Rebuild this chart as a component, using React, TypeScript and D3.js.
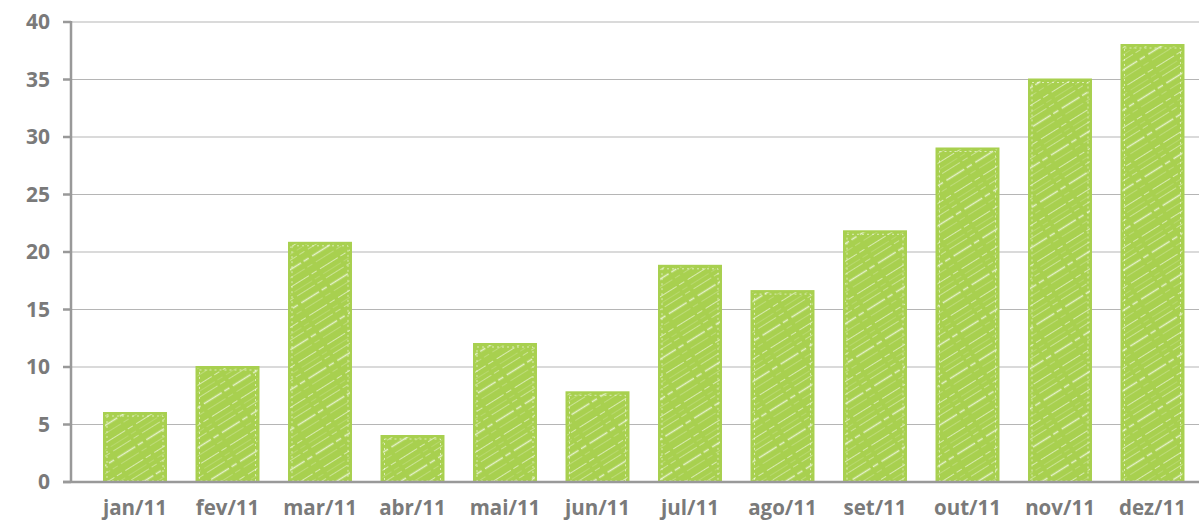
import React from 'react';
import * as d3 from 'd3';

const months = ['jan/11', 'fev/11', 'mar/11', 'abr/11', 'mai/11', 'jun/11', 'jul/11', 'ago/11', 'set/11', 'out/11', 'nov/11', 'dez/11'];
const values = [6, 10, 20.8, 4, 12, 7.8, 18.8, 16.6, 21.8, 29, 35, 38];
const yTicks = [0, 5, 10, 15, 20, 25, 30, 35, 40];

const W = 1199;
const H = 522;

const App: React.FC = () => {
  const x = d3.scaleBand<string>()
    .domain(months)
    .range([88.75, 1198.75])
    .paddingInner(0.33)
    .paddingOuter(0.165);
  const y = d3.scaleLinear().domain([0, 40]).range([482, 22]);
  const font = '"Open Sans", "DejaVu Sans", sans-serif';

  // hatch strokes inside the pattern tile
  const hatch = [
    { o: 0.45, w: 0.9, off: 0 },
    { o: 0.7, w: 1.4, off: 8 },
    { o: 0.3, w: 0.8, off: 15 },
    { o: 0.55, w: 1.1, off: 23 },
    { o: 0.25, w: 0.7, off: 29 },
  ];

  return (
    <svg width={W} height={H} style={{ position: 'absolute', left: 0, top: 0 }}>
      <defs>
        <pattern id="hatch" patternUnits="userSpaceOnUse" width={34} height={34} patternTransform="rotate(-32)">
          <rect width={34} height={34} fill="#a8d04f" />
          {hatch.map((h, i) => (
            <line key={i} x1={0} x2={34} y1={h.off + 0.5} y2={h.off + 0.5} stroke="#fff" strokeOpacity={h.o} strokeWidth={h.w} strokeDasharray="14 3 6 4" />
          ))}
        </pattern>
      </defs>
      {yTicks.map(t => (
        <g key={t}>
          <line x1={71} x2={W} y1={y(t)} y2={y(t)} stroke="#b5b5b5" strokeWidth={1.2} />
          <line x1={63} x2={71} y1={y(t)} y2={y(t)} stroke="#999" strokeWidth={2.5} />
          <text x={50} y={y(t)} dy="0.35em" textAnchor="end" fontFamily={font} fontWeight={700} fontSize={21} fill="#7a7a7a">{t}</text>
        </g>
      ))}
      {months.map((m, i) => {
        const bx = x(m)!;
        const bw = x.bandwidth();
        const by = y(values[i]);
        const bh = y(0) - by;
        return (
          <g key={m}>
            <rect x={bx} y={by} width={bw} height={bh} fill="url(#hatch)" stroke="#a8d04f" strokeWidth={2} />
            <rect x={bx + 3} y={by + 3} width={bw - 6} height={Math.max(0, bh - 4)} fill="none" stroke="#fff" strokeOpacity={0.6} strokeWidth={1} strokeDasharray="2 3" />
            <text x={bx + bw / 2} y={508} dy="0.35em" textAnchor="middle" fontFamily={font} fontWeight={700} fontSize={20.5} fill="#7a7a7a">{m}</text>
          </g>
        );
      })}
      <line x1={71} x2={71} y1={y(40) - 1} y2={y(0) + 1} stroke="#999" strokeWidth={2.5} />
      <line x1={63} x2={W} y1={y(0)} y2={y(0)} stroke="#999" strokeWidth={2.5} />
    </svg>
  );
};

export default App;
